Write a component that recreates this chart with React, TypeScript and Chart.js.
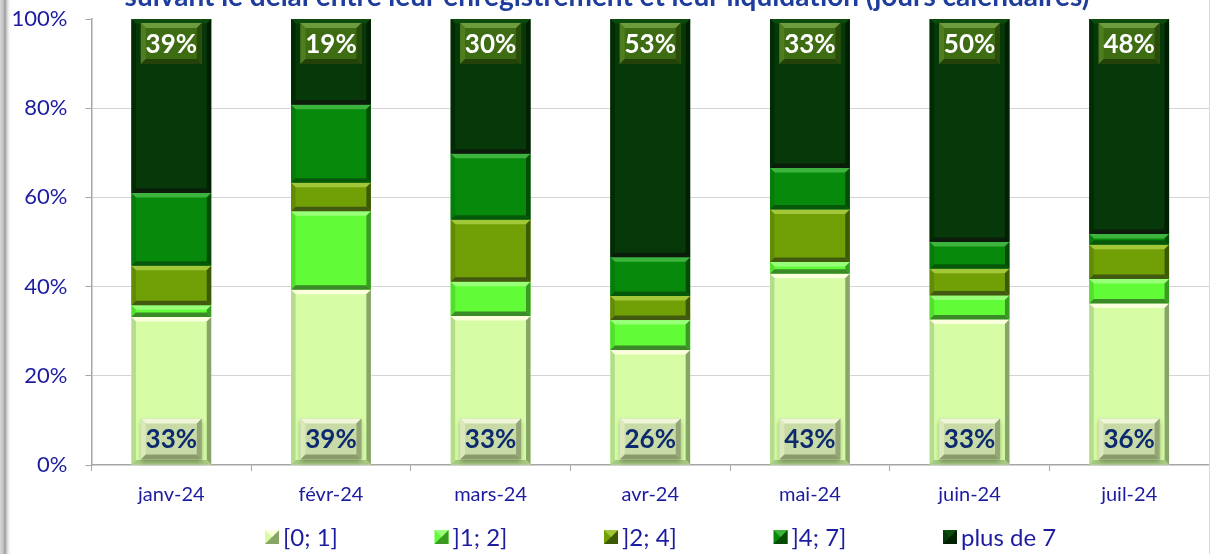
import { useEffect, useRef } from 'react';
import { Chart, registerables } from 'chart.js';

Chart.register(...registerables);

const titleText = 'suivant le délai entre leur enregistrement et leur liquidation (jours calendaires)';
const months = ['janv-24', 'févr-24', 'mars-24', 'avr-24', 'mai-24', 'juin-24', 'juil-24'];
const seriesNames = ['[0; 1]', ']1; 2]', ']2; 4]', ']4; 7]', 'plus de 7'];
const d0to1 = [33.2, 39.3, 33.4, 25.8, 42.9, 32.6, 36.2];
const d1to2 = [2.6, 17.6, 7.7, 6.7, 2.6, 5.4, 5.5];
const d2to4 = [8.9, 6.4, 13.9, 5.4, 11.8, 6.0, 7.7];
const d4to7 = [16.3, 17.5, 14.8, 8.7, 9.3, 6.0, 2.4];
const dPlus7 = [39.0, 19.2, 30.2, 53.4, 33.4, 50.0, 48.2];
const yTickValues = [0, 20, 40, 60, 80, 100];

const seriesData = [d0to1, d1to2, d2to4, d4to7, dPlus7];
const faceColors = ['#d6fda6', '#62fb37', '#70a006', '#078a0b', '#06380a'];
// top, left, right, bottom bevel colours
const bevelColors = [
  ['#fbffdc', '#b4dc8a', '#86a566', '#a6ca80'],
  ['#98ff78', '#52e02c', '#3b9a22', '#3a8a28'],
  ['#a2c83a', '#618c06', '#3c5a04', '#425a10'],
  ['#3db43d', '#067c0a', '#044c06', '#05580a'],
  ['#0c4a0e', '#022a03', '#011f01', '#0b1c0b'],
];

const FONT = 'Lato, "Open Sans", sans-serif';
const BLUE = '#1c1ca0';

function poly(ctx: CanvasRenderingContext2D, pts: number[][], color: string) {
  ctx.beginPath();
  ctx.moveTo(pts[0][0], pts[0][1]);
  for (let i = 1; i < pts.length; i++) ctx.lineTo(pts[i][0], pts[i][1]);
  ctx.closePath();
  ctx.fillStyle = color;
  ctx.fill();
}

function bevelRect(
  ctx: CanvasRenderingContext2D,
  x0: number, y0: number, x1: number, y1: number,
  face: string | null, bev: string[], bw: number,
) {
  const h = y1 - y0;
  const b = Math.max(0, Math.min(bw, h / 2, (x1 - x0) / 2));
  if (face) {
    ctx.fillStyle = face;
    ctx.fillRect(x0, y0, x1 - x0, h);
  }
  poly(ctx, [[x0, y0], [x1, y0], [x1 - b, y0 + b], [x0 + b, y0 + b]], bev[0]);
  poly(ctx, [[x0, y0], [x0 + b, y0 + b], [x0 + b, y1 - b], [x0, y1]], bev[1]);
  poly(ctx, [[x1, y0], [x1, y1], [x1 - b, y1 - b], [x1 - b, y0 + b]], bev[2]);
  poly(ctx, [[x0, y1], [x0 + b, y1 - b], [x1 - b, y1 - b], [x1, y1]], bev[3]);
}

const decorPlugin = {
  id: 'decor',
  afterDatasetsDraw(chart: any) {
    const ctx: CanvasRenderingContext2D = chart.ctx;
    ctx.save();
    chart.data.datasets.forEach((_ds: any, di: number) => {
      const meta = chart.getDatasetMeta(di);
      meta.data.forEach((el: any) => {
        const p = el.getProps(['x', 'y', 'base', 'width'], true);
        const x0 = p.x - p.width / 2;
        const x1 = p.x + p.width / 2;
        const top = Math.min(p.y, p.base);
        const bot = Math.max(p.y, p.base);
        bevelRect(ctx, x0, top, x1, bot, null, bevelColors[di], 4.5);
      });
    });

    // data labels
    const bw = 61;
    const bh = 41;
    const metaTop = chart.getDatasetMeta(4);
    metaTop.data.forEach((el: any, i: number) => {
      const p = el.getProps(['x', 'y'], true);
      const x0 = p.x - bw / 2;
      const y0 = p.y + 4;
      bevelRect(ctx, x0, y0, x0 + bw, y0 + bh, '#3e6c12', ['#6c9c3e', '#4f7e20', '#2a4c0a', '#22420a'], 5);
      ctx.fillStyle = '#ffffff';
      ctx.font = 'bold 26px ' + FONT;
      ctx.textAlign = 'center';
      ctx.textBaseline = 'middle';
      ctx.fillText(Math.round(dPlus7[i]) + '%', p.x, y0 + bh / 2 + 1);
    });
    const metaBot = chart.getDatasetMeta(0);
    metaBot.data.forEach((el: any, i: number) => {
      const p = el.getProps(['x', 'base'], true);
      const x0 = p.x - bw / 2;
      const y1 = p.base - 5;
      const y0 = y1 - bh;
      ctx.save();
      ctx.shadowColor = 'rgba(0,0,0,0.35)';
      ctx.shadowBlur = 5;
      ctx.shadowOffsetY = 2;
      ctx.fillStyle = '#c8daa6';
      ctx.fillRect(x0, y0, bw, bh);
      ctx.restore();
      bevelRect(ctx, x0, y0, x0 + bw, y1, '#c8daa6', ['#eef6d6', '#dbe8bc', '#95a676', '#8a9a68'], 5);
      ctx.fillStyle = '#0c2a6e';
      ctx.font = 'bold 26px ' + FONT;
      ctx.textAlign = 'center';
      ctx.textBaseline = 'middle';
      ctx.fillText(Math.round(d0to1[i]) + '%', p.x, y0 + bh / 2 + 1);
    });
    ctx.restore();
  },
  afterDraw(chart: any) {
    const ctx: CanvasRenderingContext2D = chart.ctx;
    ctx.save();
    // title (only its lower part is visible, as in the reference)
    let size = 24;
    ctx.font = 'bold ' + size + 'px ' + FONT;
    const w = ctx.measureText(titleText).width;
    size = size * 965 / w;
    ctx.font = 'bold ' + size.toFixed(2) + 'px ' + FONT;
    ctx.fillStyle = '#1f3d9c';
    ctx.textAlign = 'center';
    ctx.textBaseline = 'alphabetic';
    ctx.fillText(titleText, 607, 6);

    // legend
    const startX = 265;
    const step = 169.5;
    const cy = 537;
    ctx.font = '24px ' + FONT;
    ctx.textAlign = 'left';
    ctx.textBaseline = 'middle';
    seriesNames.forEach((name, i) => {
      const bx = startX + i * step;
      const by = cy - 7;
      ctx.fillStyle = faceColors[i];
      ctx.fillRect(bx, by, 14, 14);
      poly(ctx, [[bx, by + 14], [bx + 14, by], [bx + 14, by + 14]], bevelColors[i][2]);
      poly(ctx, [[bx, by], [bx + 14, by], [bx + 7, by + 7]], bevelColors[i][0]);
      ctx.fillStyle = BLUE;
      ctx.fillText(name, bx + 18, cy + 1);
    });
    ctx.restore();
  },
};

export default function App() {
  const ref = useRef<HTMLCanvasElement | null>(null);
  useEffect(() => {
    if (!ref.current) return;
    const chart = new Chart(ref.current, {
      type: 'bar',
      data: {
        labels: months,
        datasets: seriesData.map((d, i) => ({
          label: seriesNames[i],
          data: d,
          backgroundColor: faceColors[i],
          borderWidth: 0,
          barPercentage: 0.5,
          categoryPercentage: 1.0,
        })),
      },
      options: {
        animation: false,
        responsive: true,
        maintainAspectRatio: false,
        devicePixelRatio: 1,
        layout: { padding: { top: 0, right: 1, bottom: 0, left: 0 } },
        plugins: {
          legend: { display: false },
          title: { display: false },
          tooltip: { enabled: false },
        },
        scales: {
          x: {
            stacked: true,
            grid: {
              display: true,
              drawOnChartArea: false,
              drawTicks: true,
              tickLength: 6,
              color: '#a6a6a6',
              offset: true,
            },
            border: { color: '#a6a6a6', width: 1.5 },
            ticks: { color: BLUE, font: { family: FONT, size: 20 }, padding: 12, maxRotation: 0 },
            afterFit: (s: any) => { s.height = 89; },
          },
          y: {
            stacked: true,
            min: 0,
            max: 100,
            afterBuildTicks: (s: any) => { s.ticks = yTickValues.map((v) => ({ value: v })); },
            ticks: {
              color: BLUE,
              font: { family: FONT, size: 22 },
              padding: 18,
              callback: (v: any) => v + '%',
            },
            grid: {
              color: (c: any) => (c.tick && (c.tick.value === 0 || c.tick.value === 100) ? 'rgba(0,0,0,0)' : '#d4d4d4'),
              tickColor: '#a6a6a6',
              borderDash: [4, 3],
              tickBorderDash: [],
              tickLength: 6,
              lineWidth: 1,
            },
            border: { color: '#a6a6a6', width: 1.5 },
            afterFit: (s: any) => {
              s.width = 91.5;
              s.paddingTop = 19;
              s.paddingBottom = 10;
            },
          },
        },
      },
      plugins: [decorPlugin],
    } as any);
    return () => chart.destroy();
  }, []);

  return (
    <div style={{ position: 'fixed', left: 0, top: 0, width: 1210, height: 554, background: '#ffffff', overflow: 'hidden' }}>
      <canvas ref={ref} style={{ display: 'block', width: 1210, height: 554 }} />
      <div
        style={{
          position: 'absolute', left: 0, top: 0, width: 11, height: 554, pointerEvents: 'none',
          background: 'linear-gradient(to right, #d6d6d6 0px, #c4c4c4 3px, #9c9c9c 5px, #d4d4d4 7px, #f2f2f2 9px, rgba(255,255,255,0) 11px)',
        }}
      />
      <div style={{ position: 'absolute', right: 0, top: 0, width: 1, height: 554, background: '#dadada', pointerEvents: 'none' }} />
    </div>
  );
}
